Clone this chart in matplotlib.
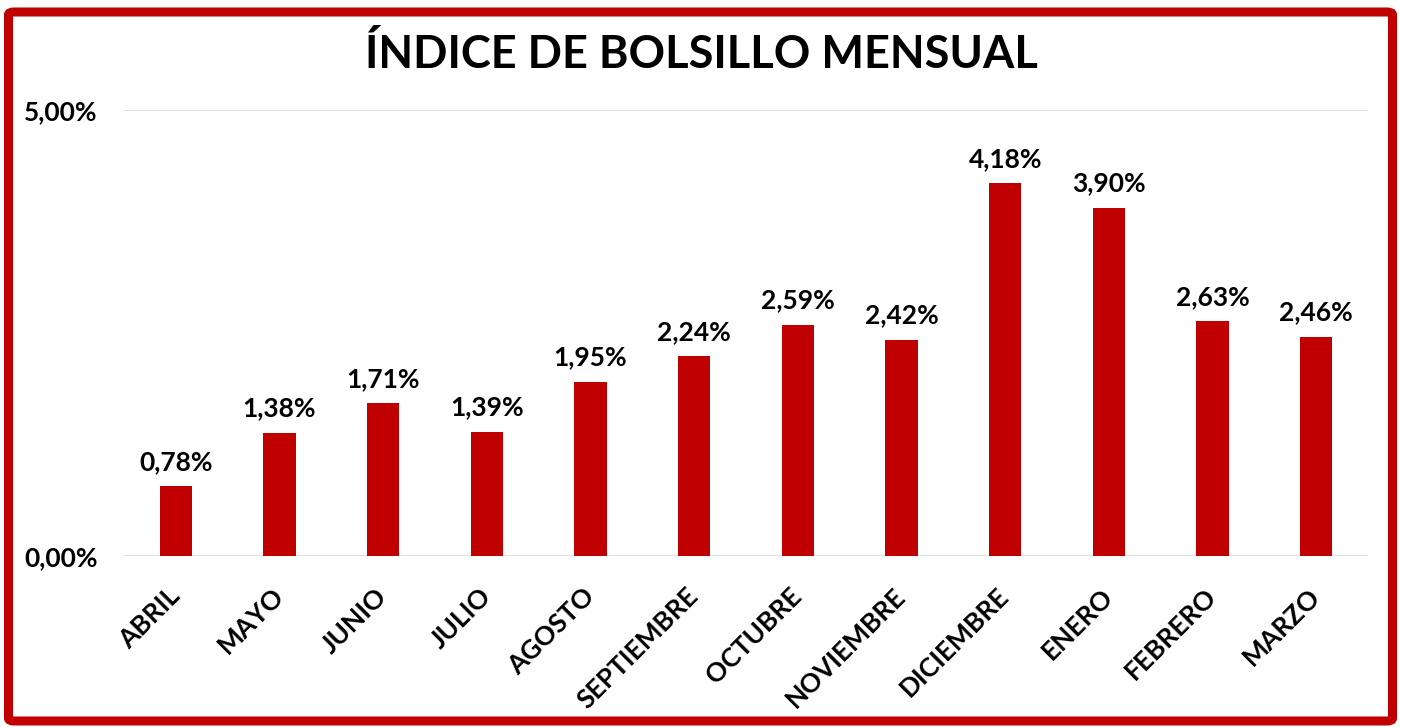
import matplotlib
matplotlib.use("Agg")
import matplotlib.pyplot as plt
from matplotlib.patches import FancyBboxPatch
from matplotlib.ticker import FuncFormatter

months = ["ABRIL", "MAYO", "JUNIO", "JULIO", "AGOSTO", "SEPTIEMBRE", "OCTUBRE",
          "NOVIEMBRE", "DICIEMBRE", "ENERO", "FEBRERO", "MARZO"]
values = [0.78, 1.38, 1.71, 1.39, 1.95, 2.24, 2.59, 2.42, 4.18, 3.90, 2.63, 2.46]
yticks = [0.0, 5.0]
title = "ÍNDICE DE BOLSILLO MENSUAL"

RED = "#C00000"
plt.rcParams['font.family'] = ['Lato', 'DejaVu Sans']

W, H = 1402, 727
fig = plt.figure(figsize=(W / 100, H / 100), dpi=100)
ax = fig.add_axes([124 / W, (H - 556) / H, (1368 - 124) / W, (556 - 110) / H])

x = range(len(months))
bars = ax.bar(x, values, width=0.31, color=RED, zorder=3)
ax.set_xlim(-0.5, len(months) - 0.5)
ax.set_ylim(0, 5.0)
ax.set_yticks(yticks)
ax.yaxis.set_major_formatter(FuncFormatter(lambda v, p: f"{v:.2f}".replace(".", ",") + "%"))
ax.grid(axis='y', color='#D9D9D9', linewidth=1.2, zorder=0)
for s in ax.spines.values():
    s.set_visible(False)
ax.tick_params(axis='both', length=0)
ax.tick_params(axis='y', labelsize=19, pad=19)
for lbl in ax.get_yticklabels():
    lbl.set_fontweight('bold')
ax.set_xticks(list(x))
ax.set_xticklabels(months, rotation=45, ha='right', va='center', rotation_mode='anchor',
                   fontsize=19, fontweight='bold')
ax.tick_params(axis='x', pad=26)

for i, v in enumerate(values):
    ax.annotate(f"{v:.2f}".replace(".", ",") + "%", (i, v), xytext=(0, 9),
                textcoords='offset points', ha='center', va='bottom',
                fontsize=19, fontweight='bold', color='black')

fig.text(0.5, (H - 55) / H, title, ha='center', va='center', fontsize=32.5,
         fontweight='bold', color='black')

border = FancyBboxPatch((8.5 / W, 6 / H), (1392.5 - 8.5) / W, (718 - 9) / H,
                        boxstyle="round,pad=0,rounding_size=0.004",
                        transform=fig.transFigure, fill=False,
                        edgecolor=RED, linewidth=6.5, zorder=10)
fig.patches.append(border)

fig.savefig("out.png", dpi=100, facecolor='white')
